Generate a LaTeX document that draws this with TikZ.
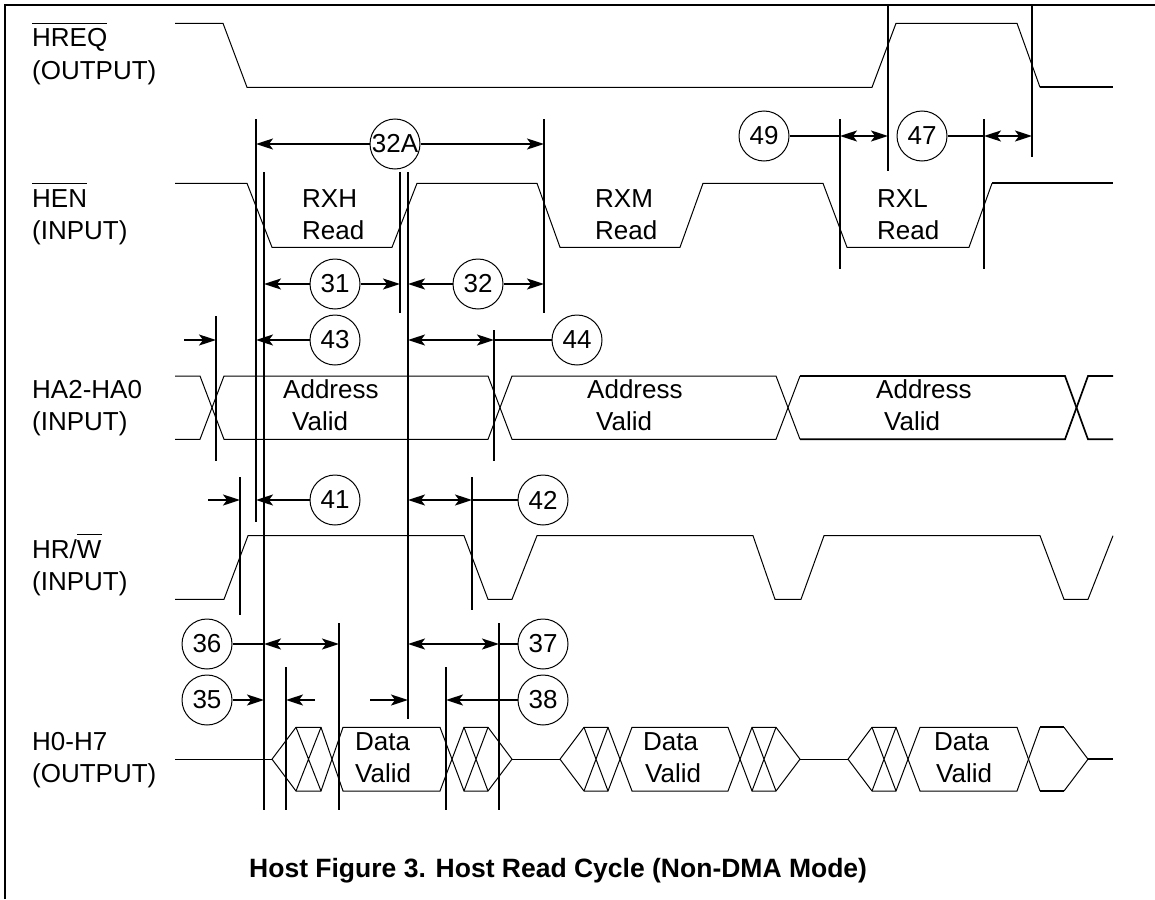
\documentclass[tikz,border=0pt]{standalone}
\usepackage{fontspec}
\setmainfont{Liberation Sans}
\usetikzlibrary{arrows.meta}
\newsavebox\olbox
\newcommand{\olbar}[1]{\sbox\olbox{#1}\rlap{\rule[22.8pt]{\wd\olbox}{1.6pt}}\usebox\olbox}
\begin{document}
\begin{tikzpicture}[x=1pt,y=-1pt,
  lbl/.style={anchor=base west, inner sep=0pt, font=\fontsize{26}{30}\selectfont},
  capt/.style={anchor=base west, inner sep=0pt, font=\fontsize{26.5}{30}\selectfont\bfseries},
  num/.style={circle, draw, line width=1pt, minimum size=50pt, inner sep=0pt, font=\fontsize{26}{30}\selectfont},
  sig/.style={line width=1pt, line join=miter},
  sigb/.style={line width=1.7pt},
  tl/.style={line width=1.8pt},
  tip/.style={},
  arr/.style={line width=1.8pt, -{Stealth[length=17pt,width=11pt,inset=4pt]}},
  darr/.style={line width=1.8pt, {Stealth[length=17pt,width=11pt,inset=4pt]}-{Stealth[length=17pt,width=11pt,inset=4pt]}}]
\useasboundingbox (0,0) rectangle (1155,899);
% frame
\draw[line width=1.8pt] (5,899) -- (5,5) -- (1155,5);

% signal labels
\node[lbl] (l1a) at (32,47) {\olbar{HREQ}};
\node[lbl] (l1b) at (32,79) {(OUTPUT)};
\node[lbl] (l2a) at (32,207) {\olbar{HEN}};
\node[lbl] (l2b) at (32,239) {(INPUT)};
\node[lbl] (l3a) at (32,398) {HA2-HA0};
\node[lbl] (l3b) at (32,430) {(INPUT)};
\node[lbl] (l4a) at (32,558) {HR/\olbar{W}};
\node[lbl] (l4b) at (32,590) {(INPUT)};
\node[lbl] (l5a) at (32,750) {H0-H7};
\node[lbl] (l5b) at (32,782) {(OUTPUT)};

% HREQ
\draw[sig] (175,23.3) -- (223,23.3) -- (247,87.3) -- (872,87.3) -- (896,23.3) -- (1017,23.3) -- (1040,87.3);
\draw[sigb] (1040,87.3) -- (1113,87.3);

% HEN
\draw[sig] (175,183.3) -- (247,183.3) -- (272,247.3) -- (392,247.3) -- (417,183.3) -- (537,183.3) -- (560,247.3) -- (680,247.3) -- (703,183.3) -- (823,183.3) -- (847,247.3) -- (969,247.3) -- (992,183.3);
\draw[sigb] (992,183.3) -- (1113,183.3);
\node[lbl] (rxh1) at (302,207) {RXH};
\node[lbl] (rxh2) at (302,239) {Read};
\node[lbl] (rxm1) at (595,207) {RXM};
\node[lbl] (rxm2) at (595,239) {Read};
\node[lbl] (rxl1) at (877,207) {RXL};
\node[lbl] (rxl2) at (877,239) {Read};

% HA2-HA0
\draw[sig] (175,376) -- (200,376) -- (224,439.3) -- (488,439.3) -- (512,376) -- (776,376) -- (800,439.3);
\draw[sig] (175,439.3) -- (200,439.3) -- (224,376) -- (488,376) -- (512,439.3) -- (776,439.3) -- (800,376);
\draw[sigb] (800,439.3) -- (1065,439.3) -- (1088,376) -- (1113,376);
\draw[sigb] (800,376) -- (1065,376) -- (1088,439.3) -- (1113,439.3);
\node[lbl] (av1a) at (283,398) {Address};
\node[lbl] (av1b) at (292,430) {Valid};
\node[lbl] (av2a) at (587,398) {Address};
\node[lbl] (av2b) at (596,430) {Valid};
\node[lbl] (av3a) at (876,398) {Address};
\node[lbl] (av3b) at (884,430) {Valid};

% HR/W
\draw[sig] (175,599.3) -- (224,599.3) -- (248,535.7) -- (464,535.7) -- (488,599.3) -- (512,599.3) -- (537,535.7) -- (753,535.7) -- (775,599.3) -- (801,599.3) -- (824,535.7) -- (1040,535.7) -- (1064,599.3) -- (1088,599.3) -- (1113,535.7);

% H0-H7
\draw[sig] (175,759.2) -- (272,759.2);
% cycle 1
\draw[sig] (272,759.2) -- (296,727.3) -- (321,727.3) -- (343,791) -- (440,791) -- (464,727.3) -- (488,727.3) -- (512,759.2);
\draw[sig] (272,759.2) -- (296,791) -- (321,791) -- (343,727.3) -- (440,727.3) -- (464,791) -- (488,791) -- (512,759.2);
\draw[sig] (296,727.3) -- (321,791) (296,791) -- (321,727.3) (464,727.3) -- (488,791) (464,791) -- (488,727.3);
\draw[sig] (512,759.2) -- (560,759.2);
% cycle 2
\draw[sig] (560,759.2) -- (584,727.3) -- (608,727.3) -- (632,791) -- (728,791) -- (752,727.3) -- (776,727.3) -- (800,759.2);
\draw[sig] (560,759.2) -- (584,791) -- (608,791) -- (632,727.3) -- (728,727.3) -- (752,791) -- (776,791) -- (800,759.2);
\draw[sig] (584,727.3) -- (608,791) (584,791) -- (608,727.3) (752,727.3) -- (776,791) (752,791) -- (776,727.3);
\draw[sig] (800,759.2) -- (848,759.2);
% cycle 3
\draw[sig] (848,759.2) -- (872,727.3) -- (896,727.3) -- (920,791) -- (1017,791) -- (1040,727.3);
\draw[sig] (848,759.2) -- (872,791) -- (896,791) -- (920,727.3) -- (1017,727.3) -- (1040,791);
\draw[sig] (872,727.3) -- (896,791) (872,791) -- (896,727.3);
\draw[sigb] (1040,727.3) -- (1064,727.3);
\draw[sigb] (1040,791) -- (1064,791);
\draw[sig] (1064,727.3) -- (1088,759.2) -- (1064,791);
\draw[sigb] (1088,759.2) -- (1113,759.2);
\node[lbl] (dv1a) at (355,750) {Data};
\node[lbl] (dv1b) at (355,782) {Valid};
\node[lbl] (dv2a) at (643,750) {Data};
\node[lbl] (dv2b) at (645,782) {Valid};
\node[lbl] (dv3a) at (934,750) {Data};
\node[lbl] (dv3b) at (936,782) {Valid};

% timing reference lines
\foreach \n/\x/\a/\b in {216/216/316/461, 256/256/119/522, 264/264/172/810, 240/240/477/615,
  286/286/667/810, 339/339/623/810, 400/400/172/313, 408/408/172/719, 544/544/119/313,
  494/494/330/461, 472/472/477/610, 499/499/623/810, 446/446/667/810, 888/888/5/171,
  1032/1032/5/157, 840/840/119/269, 984/984/119/269}{
  \coordinate (t\n) at (\x,\a);
  \coordinate (b\n) at (\x,\b);
  \draw[tl] (t\n) -- (b\n);
}

% parameter circles
\node[num] (c32A) at (395,144) {32A};
\node[num] (c31) at (335,284) {31};
\node[num] (c43) at (335,340) {43};
\node[num] (c32) at (478,284) {32};
\node[num] (c44) at (577,340) {44};
\node[num] (c49) at (764,136) {49};
\node[num] (c47) at (922,136) {47};
\node[num] (c41) at (335,500) {41};
\node[num] (c42) at (543,500) {42};
\node[num] (c36) at (207,644) {36};
\node[num] (c35) at (207,700) {35};
\node[num] (c37) at (543,644) {37};
\node[num] (c38) at (543,700) {38};

% dimension arrows
\draw[arr] (c32A.west) -- (t256 |- c32A);
\draw[arr] (c32A.east) -- (t544 |- c32A);
\draw[arr] (c31.west) -- (t264 |- c31);
\draw[arr] (c31.east) -- (t400 |- c31);
\draw[arr] (c32.west) -- (t408 |- c32);
\draw[arr] (c32.east) -- (t544 |- c32);
\draw[arr] (c43.west) -- (t256 |- c43);
\coordinate (s43) at (184,340);
\draw[arr] (s43) -- (t216 |- s43);
\draw[darr] (t408 |- c44) -- (t494 |- c44);
\draw[tl] (t494 |- c44) -- (c44.west);
\draw[arr] (c41.west) -- (t256 |- c41);
\coordinate (s41) at (208,500);
\draw[arr] (s41) -- (t240 |- s41);
\draw[darr] (t408 |- c42) -- (t472 |- c42);
\draw[tl] (t472 |- c42) -- (c42.west);
\draw[tl] (c36.east) -- (t264 |- c36);
\draw[darr] (t264 |- c36) -- (t339 |- c36);
\draw[darr] (t408 |- c37) -- (t499 |- c37);
\draw[tl] (t499 |- c37) -- (c37.west);
\draw[arr] (c35.east) -- (t264 |- c35);
\coordinate (s35a) at (315,700);
\draw[arr] (s35a) -- (t286 |- s35a);
\coordinate (s35b) at (370,700);
\draw[arr] (s35b) -- (t408 |- s35b);
\draw[arr] (c38.west) -- (t446 |- c38);
\draw[tl] (c49.east) -- (t840 |- c49);
\draw[darr] (t840 |- c49) -- (t888 |- c49);
\draw[tl] (c47.east) -- (t984 |- c47);
\draw[darr] (t984 |- c47) -- (t1032 |- c47);

% caption
\node[capt] (cap) at (249,877) {Host Figure 3. Host Read Cycle (Non-DMA Mode)};
\end{tikzpicture}
\end{document}
